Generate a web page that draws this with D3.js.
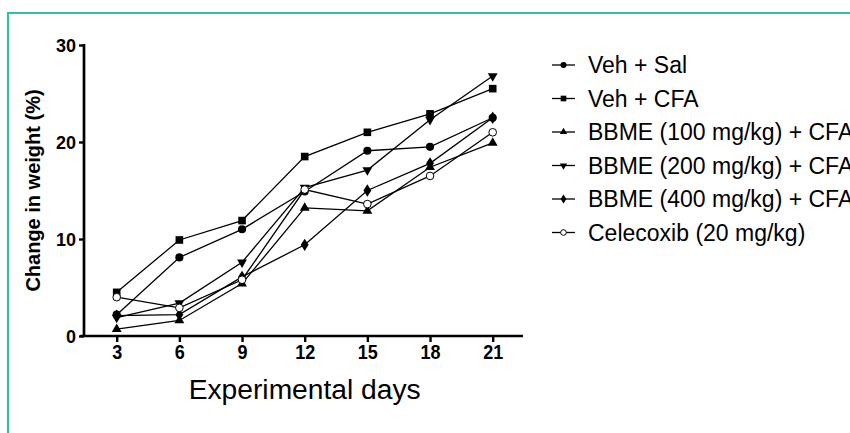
<!DOCTYPE html>
<html>
<head>
<meta charset="utf-8">
<script src="https://cdn.jsdelivr.net/npm/d3@7"></script>
<style>
  html, body { margin: 0; padding: 0; background: #fff; }
  svg { display: block; }
  text { font-family: "Liberation Sans", Arial, sans-serif; fill: #000; }
</style>
</head>
<body>
<svg id="chart" width="850" height="433"></svg>
<script>
// ---- data ----
const days = [3, 6, 9, 12, 15, 18, 21];
const xTickLabels = ["3", "6", "9", "12", "15", "18", "21"];
const yTickValues = [0, 10, 20, 30];
const seriesNames = [
  "Veh + Sal",
  "Veh + CFA",
  "BBME (100 mg/kg) + CFA",
  "BBME (200 mg/kg) + CFA",
  "BBME (400 mg/kg) + CFA",
  "Celecoxib (20 mg/kg)"
];
const vehSal    = [2.2, 8.1, 11.0, 14.9, 19.1, 19.5, 22.5];
const vehCFA    = [4.5, 9.9, 11.9, 18.5, 21.0, 22.9, 25.5];
const bbme100   = [0.7, 1.6, 5.4, 13.2, 12.9, 17.4, 19.9];
const bbme200   = [1.9, 3.4, 7.6, 15.3, 17.1, 22.3, 26.8];
const bbme400   = [2.1, 2.2, 6.1, 9.4, 15.0, 17.8, 22.5];
const celecoxib = [4.0, 2.9, 5.8, 15.1, 13.6, 16.5, 21.0];
const seriesValues = [vehSal, vehCFA, bbme100, bbme200, bbme400, celecoxib];
const markerTypes = ["circle", "square", "triUp", "triDown", "diamond", "openCircle"];

const xLabel = "Experimental days";
const yLabel = "Change in weight (%)";

// ---- layout ----
const svg = d3.select("#chart");
const x = d3.scaleLinear().domain([3, 21]).range([116.7, 492.7]);
const y = d3.scaleLinear().domain([0, 30]).range([336, 45]);
const xAxisStart = 1.25, xAxisEnd = 22.45;

// teal frame
svg.append("path")
  .attr("d", "M8,440 L8,13 L860,13")
  .attr("fill", "none")
  .attr("stroke", "#35bfa8")
  .attr("stroke-width", 2.2);

// y axis
const yAxis = d3.axisLeft(y).tickValues(yTickValues).tickSize(5).tickPadding(3).tickSizeOuter(0);
const gy = svg.append("g").attr("transform", "translate(84,0)").call(yAxis);
gy.select(".domain").attr("stroke", "#000").attr("stroke-width", 2.7)
  .attr("d", `M0,${y(30) - 1}V${y(0) + 1}`);
gy.selectAll(".tick line").attr("stroke", "#000").attr("stroke-width", 2.4);
gy.selectAll(".tick text")
  .style("font-family", '"Liberation Sans", Arial, sans-serif')
  .style("font-weight", "bold").style("font-size", "18px")
  .attr("dy", "0.36em");

// x axis
const xAxis = d3.axisBottom(x).tickValues(days).tickFormat((d, i) => xTickLabels[i])
  .tickSize(6).tickPadding(3).tickSizeOuter(0);
const gx = svg.append("g").attr("transform", `translate(0,${y(0)})`).call(xAxis);
gx.select(".domain").attr("stroke", "#000").attr("stroke-width", 2.7)
  .attr("d", `M${x(xAxisStart)},0H${x(xAxisEnd)}`);
gx.selectAll(".tick line").attr("stroke", "#000").attr("stroke-width", 2.4);
gx.selectAll(".tick text")
  .style("font-family", '"Liberation Sans", Arial, sans-serif')
  .style("font-weight", "bold").style("font-size", "20px")
  .attr("transform", "scale(0.9,1)");

// axis titles
svg.append("text")
  .attr("x", (x(3) + x(21)) / 2)
  .attr("y", 399)
  .attr("text-anchor", "middle")
  .style("font-size", "27px")
  .attr("textLength", 232)
  .attr("lengthAdjust", "spacingAndGlyphs")
  .text(xLabel);

svg.append("text")
  .attr("transform", `translate(40,${(y(0) + y(30)) / 2}) rotate(-90)`)
  .attr("text-anchor", "middle")
  .style("font-size", "20px")
  .style("font-weight", "bold")
  .text(yLabel);

// marker drawing
function drawMarker(g, type, cx, cy, s) {
  const sym = {
    circle: d3.symbolCircle, openCircle: d3.symbolCircle, square: d3.symbolSquare,
    triUp: d3.symbolTriangle, triDown: d3.symbolTriangle, diamond: d3.symbolDiamond
  }[type];
  const sizes = { circle: 52, openCircle: 46, square: 58, triUp: 42, triDown: 42, diamond: 44 };
  const p = g.append("path")
    .attr("d", d3.symbol().type(sym).size(sizes[type] * s)())
    .attr("transform", `translate(${cx},${cy})` + (type === "triDown" ? " rotate(180)" : "") +
      (type === "diamond" ? " scale(1.1,1)" : ""));
  if (type === "openCircle") p.attr("fill", "#fff").attr("stroke", "#000").attr("stroke-width", 1);
  else p.attr("fill", "#000");
}

// lines and markers
const line = d3.line().x((d, i) => x(days[i])).y(d => y(d));
const plot = svg.append("g");
seriesValues.forEach((vals) => {
  plot.append("path")
    .attr("d", line(vals))
    .attr("fill", "none")
    .attr("stroke", "#000")
    .attr("stroke-width", 1.3);
});
seriesValues.forEach((vals, si) => {
  const g = plot.append("g");
  vals.forEach((v, i) => drawMarker(g, markerTypes[si], x(days[i]), y(v), 1));
});

// legend
const legend = svg.append("g");
const legY0 = 65, legDy = 33.5;
seriesNames.forEach((name, i) => {
  const ly = legY0 + i * legDy;
  legend.append("line").attr("x1", 552).attr("x2", 575).attr("y1", ly).attr("y2", ly)
    .attr("stroke", "#000").attr("stroke-width", 1.3);
  drawMarker(legend, markerTypes[i], 563.5, ly, 0.55);
  legend.append("text").attr("x", 588).attr("y", ly + 8)
    .style("font-size", "23px").text(name);
});
</script>
</body>
</html>
